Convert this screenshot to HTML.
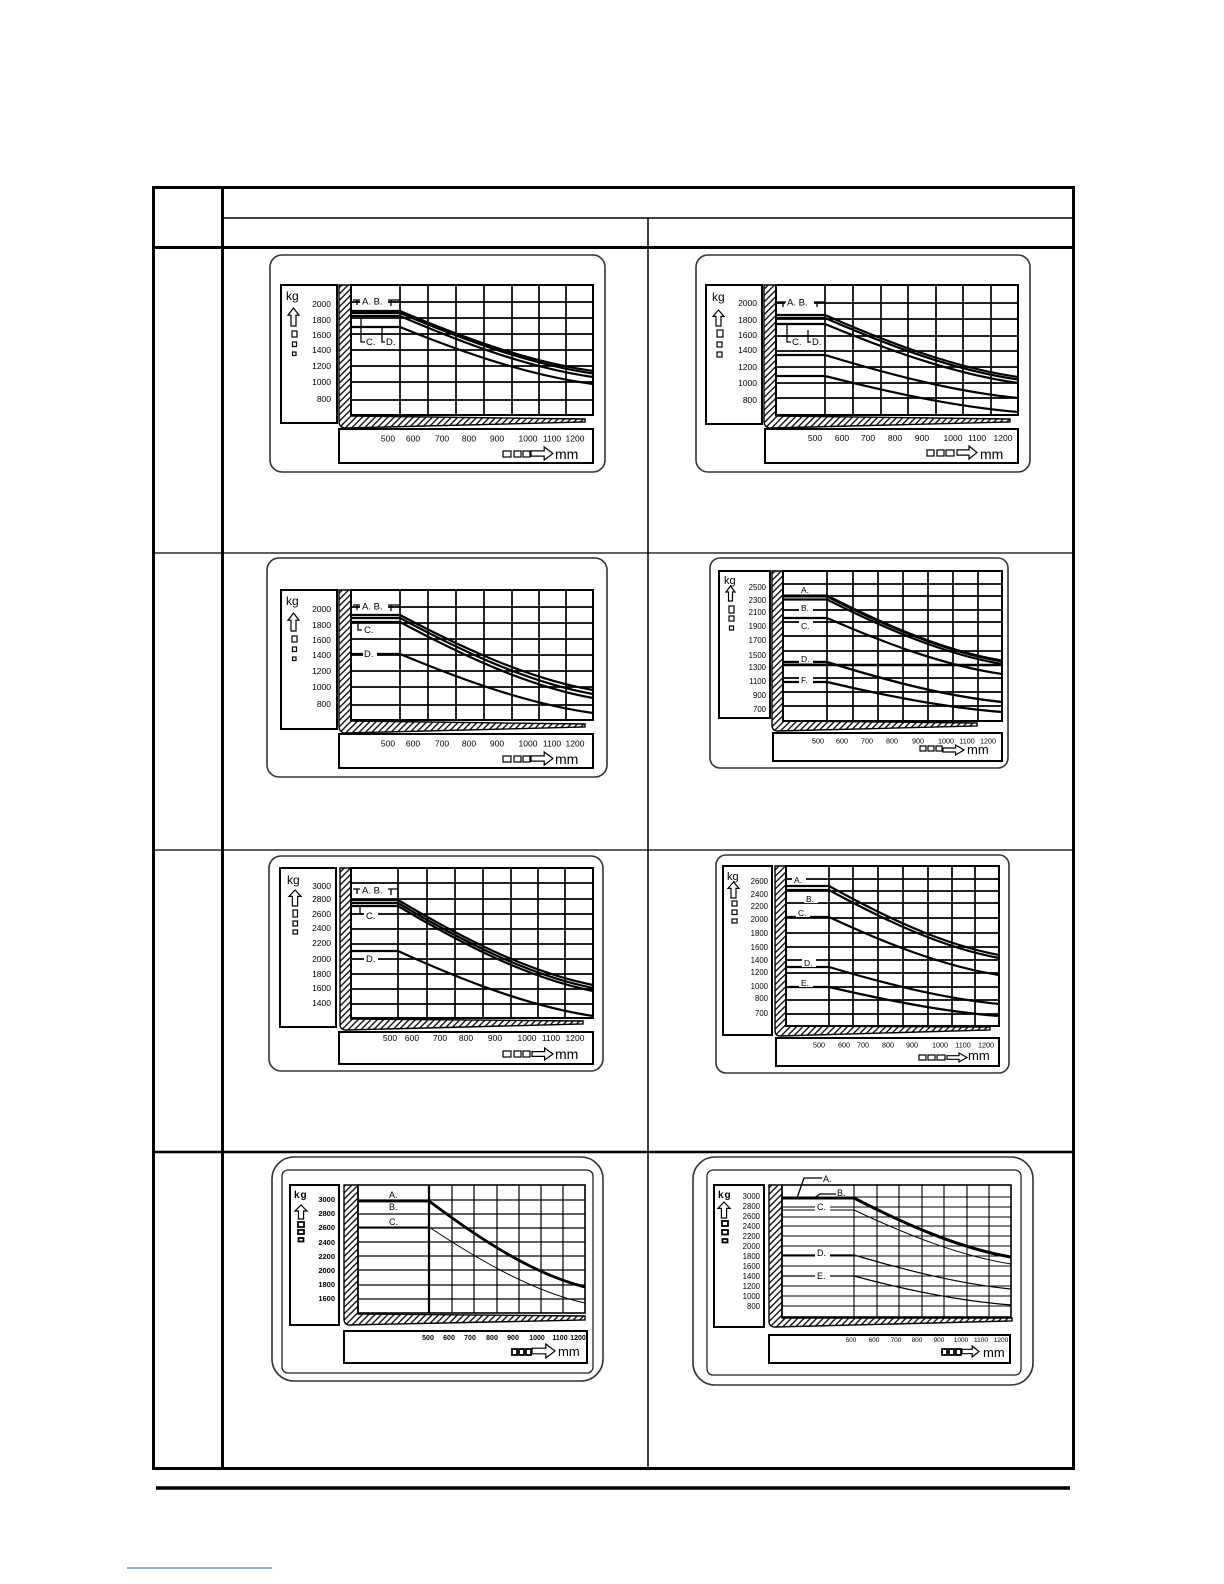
<!DOCTYPE html>
<html><head><meta charset="utf-8"><style>
html,body{margin:0;padding:0;background:#fff}
svg{display:block;font-family:"Liberation Sans",Arial,sans-serif}
.ob{fill:none;stroke:#333;stroke-width:1.6}
.bx{fill:none;stroke:#000;stroke-width:2}
.ht{fill:url(#h);stroke:#000;stroke-width:1.4}
.gr{fill:none;stroke:#000;stroke-width:1.7}
.yl text{font-size:8.5px;text-anchor:end}
.xl text{font-size:8.5px;text-anchor:middle}
.ys text{font-size:7.8px;text-anchor:end}
.xs text{font-size:7.2px;text-anchor:middle}
.xt text{font-size:6.5px;text-anchor:middle}
.yb text{font-size:7.5px;font-weight:bold;text-anchor:end}
.xb text{font-size:7px;font-weight:bold;text-anchor:middle}
.ic{fill:#fff;stroke:#000;stroke-width:1.2}
.icb{fill:#fff;stroke:#000;stroke-width:1.8}
.cv path{fill:none;stroke:#000;stroke-width:2.2}
.br{fill:none;stroke:#000;stroke-width:1.3}
.lb{font-size:9.5px}
.ls{font-size:8.5px}
</style></head><body>
<svg width="1224" height="1584" viewBox="0 0 1224 1584" xmlns="http://www.w3.org/2000/svg">
<defs><pattern id="h" width="4.5" height="4.5" patternUnits="userSpaceOnUse" patternTransform="rotate(45)"><line x1="2.25" y1="0" x2="2.25" y2="4.5" stroke="#000" stroke-width="1.3"/></pattern></defs>

<!-- table -->
<g stroke="#000" fill="none">
<rect x="153.5" y="187.5" width="920" height="1281" stroke-width="3"/>
<line x1="222.5" y1="187" x2="222.5" y2="1469" stroke-width="3"/>
<line x1="224" y1="218" x2="1072" y2="218" stroke-width="1.5"/>
<line x1="153" y1="247.5" x2="1074" y2="247.5" stroke-width="3"/>
<line x1="648" y1="218" x2="648" y2="1468" stroke-width="1.5"/>
<line x1="155" y1="553" x2="1072" y2="553" stroke-width="1.3"/>
<line x1="155" y1="850" x2="1072" y2="850" stroke-width="1.3"/>
<line x1="155" y1="1152" x2="1072" y2="1152" stroke-width="2.5"/>
<line x1="156" y1="1488" x2="1070" y2="1488" stroke-width="3.5"/>
</g>
<line x1="127" y1="1568" x2="272" y2="1568" stroke="#3355cc" stroke-width="1"/>

<!-- C1 -->
<rect x="270" y="255" width="335" height="217" rx="12" class="ob"/>
<rect x="281" y="285" width="56" height="138" class="bx"/>
<path d="M339,285 L351,285 L351,416 L585,419 L585,422 L346,428 Q339,428 339,421 Z" class="ht"/>
<rect x="351" y="285" width="242" height="130" class="bx"/>
<path class="gr" d="M400,285V415M428,285V415M456,285V415M484,285V415M512,285V415M539,285V415M566,285V415M351,302H593M351,318H593M351,334H593M351,350H593M351,366H593M351,382H593M351,400H593"/>
<g class="yl"><text x="331" y="307">2000</text><text x="331" y="323">1800</text><text x="331" y="338">1600</text><text x="331" y="353">1400</text><text x="331" y="369">1200</text><text x="331" y="385">1000</text><text x="331" y="402">800</text></g>
<text x="286" y="300" font-size="12">kg</text>
<polygon class="ic" points="293.5,308 299,315.2 296,315.2 296,326 291,326 291,315.2 288,315.2"/>
<rect class="ic" x="292" y="331" width="5" height="6"/><rect class="ic" x="292.5" y="342" width="4" height="4.5"/><rect class="ic" x="292.5" y="352" width="3.5" height="3.5"/>
<rect x="339" y="429" width="254" height="34" class="bx"/>
<g class="xl"><text x="388" y="441.5">500</text><text x="413" y="441.5">600</text><text x="442" y="441.5">700</text><text x="469" y="441.5">800</text><text x="497" y="441.5">900</text><text x="528" y="441.5">1000</text><text x="552" y="441.5">1100</text><text x="575" y="441.5">1200</text></g>
<rect class="ic" x="503" y="451" width="8" height="6"/><rect class="ic" x="514" y="451" width="7" height="6"/><rect class="ic" x="523" y="451" width="7" height="6"/>
<polygon class="ic" points="531,450.9 544.2,450.9 544.2,447 553,453.5 544.2,460 544.2,456.1 531,456.1"/>
<text x="555" y="459" font-size="14">mm</text>
<g class="cv">
<path d="M351,311H400C464,338 529,362 593,371"/>
<path d="M351,313H400C464,340 529,364 593,373.5"/>
<path d="M351,316H400C464,343.5 529,368 593,377"/>
<path d="M351,327H400C464,353 529,375.5 593,384"/>
</g>
<rect x="360" y="296" width="28" height="10" fill="#fff"/>
<text x="362" y="304.5" class="lb">A. B.</text>
<path class="br" d="M353,300H357M357,300V305M357,300H360M388,300H391M391,300V306M391,300H400M361,316V342H365M382,327V342H385"/>
<text x="366" y="345" class="lb">C.</text><text x="386" y="345" class="lb">D.</text>

<!-- C2 -->
<rect x="696" y="255" width="334" height="217" rx="12" class="ob"/>
<rect x="706" y="285" width="56" height="139" class="bx"/>
<path d="M764,285 L776,285 L776,416 L1010,419 L1010,422 L771,428 Q764,428 764,421 Z" class="ht"/>
<rect x="776" y="285" width="242" height="130" class="bx"/>
<path class="gr" d="M825,285V415M853,285V415M881,285V415M908,285V415M936,285V415M963,285V415M991,285V415M776,303H1018M776,319H1018M776,336H1018M776,351H1018M776,367H1018M776,383H1018M776,398H1018"/>
<g class="yl"><text x="757" y="306">2000</text><text x="757" y="323">1800</text><text x="757" y="338">1600</text><text x="757" y="353">1400</text><text x="757" y="370">1200</text><text x="757" y="386">1000</text><text x="757" y="403">800</text></g>
<text x="712" y="301" font-size="12">kg</text>
<polygon class="ic" points="718.5,310 724,316.4 721,316.4 721,326 716,326 716,316.4 713,316.4"/>
<rect class="ic" x="717" y="330" width="6" height="7"/><rect class="ic" x="717" y="342" width="5" height="5"/><rect class="ic" x="717" y="352" width="5" height="5"/>
<rect x="765" y="429" width="253" height="34" class="bx"/>
<g class="xl"><text x="815" y="441">500</text><text x="842" y="441">600</text><text x="868" y="441">700</text><text x="895" y="441">800</text><text x="922" y="441">900</text><text x="953" y="441">1000</text><text x="977" y="441">1100</text><text x="1003" y="441">1200</text></g>
<rect class="ic" x="927" y="450" width="7" height="6"/><rect class="ic" x="937" y="450" width="7" height="6"/><rect class="ic" x="946" y="450" width="8" height="6"/>
<polygon class="ic" points="957,449.9 969,449.9 969,446 977,452.5 969,459 969,455.1 957,455.1"/>
<text x="980" y="459" font-size="14">mm</text>
<g class="cv">
<path d="M776,315H825C889,343 954,367.7 1018,377"/>
<path d="M776,318H825C889,345.7 954,370.3 1018,379.5"/>
<path d="M776,324H825C889,350.6 954,374 1018,383"/>
<path d="M776,355H825C889,374.4 954,391.6 1018,398"/>
<path d="M776,376H825C889,392.2 954,406.6 1018,412"/>
</g>
<rect x="785" y="297" width="29" height="10" fill="#fff"/>
<text x="787" y="305.5" class="lb">A. B.</text>
<path class="br" d="M777,302H783M783,302V307M783,302H786M814,302H817M817,302V307M817,302H825M787,324V342H791M808,330V342H811"/>
<text x="792" y="345" class="lb">C.</text><text x="812" y="345" class="lb">D.</text>

<!-- C3 -->
<rect x="267" y="558" width="340" height="219" rx="12" class="ob"/>
<rect x="281" y="590" width="56" height="139" class="bx"/>
<path d="M339,590 L351,590 L351,721 L585,724 L585,727 L346,733 Q339,733 339,726 Z" class="ht"/>
<rect x="351" y="590" width="242" height="130" class="bx"/>
<path class="gr" d="M400,590V720M428,590V720M456,590V720M484,590V720M512,590V720M539,590V720M566,590V720M351,607H593M351,623H593M351,639H593M351,655H593M351,671H593M351,687H593M351,705H593"/>
<g class="yl"><text x="331" y="612">2000</text><text x="331" y="628">1800</text><text x="331" y="643">1600</text><text x="331" y="658">1400</text><text x="331" y="674">1200</text><text x="331" y="690">1000</text><text x="331" y="707">800</text></g>
<text x="286" y="605" font-size="12">kg</text>
<polygon class="ic" points="293.5,613 299,620.2 296,620.2 296,631 291,631 291,620.2 288,620.2"/>
<rect class="ic" x="292" y="636" width="5" height="6"/><rect class="ic" x="292.5" y="647" width="4" height="4.5"/><rect class="ic" x="292.5" y="657" width="3.5" height="3.5"/>
<rect x="339" y="734" width="254" height="34" class="bx"/>
<g class="xl"><text x="388" y="746.5">500</text><text x="413" y="746.5">600</text><text x="442" y="746.5">700</text><text x="469" y="746.5">800</text><text x="497" y="746.5">900</text><text x="528" y="746.5">1000</text><text x="552" y="746.5">1100</text><text x="575" y="746.5">1200</text></g>
<rect class="ic" x="503" y="756" width="8" height="6"/><rect class="ic" x="514" y="756" width="7" height="6"/><rect class="ic" x="523" y="756" width="7" height="6"/>
<polygon class="ic" points="531,755.9 544.2,755.9 544.2,752 553,758.5 544.2,765 544.2,761.1 531,761.1"/>
<text x="555" y="764" font-size="14">mm</text>
<g class="cv">
<path d="M351,615H400C464,648.8 529,678.8 593,690"/>
<path d="M351,618H400C464,652.2 529,682.6 593,694"/>
<path d="M351,622H400C464,656.2 529,686.6 593,698"/>
<path d="M351,654H400C464,680.6 529,704.2 593,713"/>
</g>
<rect x="360" y="601" width="28" height="10" fill="#fff"/>
<text x="362" y="609.5" class="lb">A. B.</text>
<path class="br" d="M353,605H357M357,605V610M357,605H360M388,605H391M391,605V611M391,605H400M358,622V630H362"/>
<text x="364" y="633" class="lb">C.</text>
<rect x="363" y="648" width="14" height="10" fill="#fff"/><text x="364" y="657" class="lb">D.</text>

<!-- C4 -->
<rect x="710" y="558" width="298" height="210" rx="10" class="ob"/>
<rect x="719" y="571" width="51" height="147" class="bx"/>
<path d="M772,571 L783,571 L783,721 L977,723 L977,726 L778,731 Q772,731 772,725 Z" class="ht"/>
<rect x="783" y="571" width="219" height="150" class="bx"/>
<path class="gr" d="M827,571V721M853,571V721M878,571V721M903,571V721M928,571V721M953,571V721M978,571V721M783,584H1002M783,596H1002M783,610H1002M783,622H1002M783,636H1002M783,651H1002M783,678H1002M783,692H1002M783,706H1002"/>
<path d="M783,665H1002" stroke="#000" stroke-width="2.5"/>
<g class="ys"><text x="766" y="590">2500</text><text x="766" y="603">2300</text><text x="766" y="615">2100</text><text x="766" y="629">1900</text><text x="766" y="643">1700</text><text x="766" y="658">1500</text><text x="766" y="670">1300</text><text x="766" y="684">1100</text><text x="766" y="698">900</text><text x="766" y="712">700</text></g>
<text x="724" y="584" font-size="11">kg</text>
<polygon class="ic" points="730.5,586 735,592 732.5,592 732.5,601 728.5,601 728.5,592 726,592"/>
<rect class="ic" x="729" y="606" width="5" height="7"/><rect class="ic" x="729" y="616" width="5" height="5"/><rect class="ic" x="729.5" y="626" width="4" height="4"/>
<rect x="773" y="733" width="229" height="28" class="bx"/>
<g class="xs"><text x="818" y="743.5">500</text><text x="842" y="743.5">600</text><text x="867" y="743.5">700</text><text x="892" y="743.5">800</text><text x="918" y="743.5">900</text><text x="946" y="743.5">1000</text><text x="967" y="743.5">1100</text><text x="988" y="743.5">1200</text></g>
<rect class="ic" x="920" y="746" width="6" height="5"/><rect class="ic" x="928" y="746" width="6" height="5"/><rect class="ic" x="936" y="746" width="6" height="5"/>
<polygon class="ic" points="943,748 955.6,748 955.6,745 964,750 955.6,755 955.6,752 943,752"/>
<text x="967" y="754" font-size="13">mm</text>
<g class="cv">
<path d="M783,596H827C884.8,625.3 944.3,651.3 1002,661" style="stroke-width:3"/>
<path d="M783,599.5H827C884.8,628.5 944.3,654.3 1002,664"/>
<path d="M783,618H827C884.8,643.2 944.3,665.6 1002,674"/>
<path d="M783,662H827C884.8,680 944.3,696 1002,702" style="stroke-width:2.4"/>
<path d="M783,682H827C884.8,695.5 944.3,707.5 1002,712"/>
</g>
<rect x="799" y="585" width="14" height="9" fill="#fff"/><text x="801" y="593" class="ls">A.</text>
<rect x="799" y="603" width="14" height="9" fill="#fff"/><text x="801" y="611" class="ls">B.</text>
<rect x="799" y="621" width="14" height="9" fill="#fff"/><text x="801" y="629" class="ls">C.</text>
<rect x="799" y="654" width="14" height="9" fill="#fff"/><text x="801" y="662" class="ls">D.</text>
<rect x="799" y="675" width="14" height="9" fill="#fff"/><text x="801" y="683" class="ls">F.</text>

<!-- C5 -->
<rect x="269" y="856" width="334" height="215" rx="12" class="ob"/>
<rect x="280" y="868" width="56" height="159" class="bx"/>
<path d="M340,868 L351,868 L351,1019 L583,1021 L583,1024 L346,1030 Q340,1030 340,1024 Z" class="ht"/>
<rect x="351" y="868" width="242" height="150" class="bx"/>
<path class="gr" d="M398,868V1018M427,868V1018M455,868V1018M483,868V1018M511,868V1018M538,868V1018M565,868V1018M351,883H593M351,899H593M351,914H593M351,929H593M351,944H593M351,959H593M351,974H593M351,989H593M351,1004H593"/>
<g class="yl"><text x="331" y="889">3000</text><text x="331" y="902">2800</text><text x="331" y="917">2600</text><text x="331" y="931">2400</text><text x="331" y="946">2200</text><text x="331" y="962">2000</text><text x="331" y="977">1800</text><text x="331" y="991">1600</text><text x="331" y="1006">1400</text></g>
<text x="287" y="884" font-size="12">kg</text>
<polygon class="ic" points="295,890 301,896.4 297.6,896.4 297.6,906 292.4,906 292.4,896.4 289,896.4"/>
<rect class="ic" x="293" y="910" width="4.5" height="7"/><rect class="ic" x="293" y="921" width="4.5" height="5"/><rect class="ic" x="293" y="930" width="4.5" height="4"/>
<rect x="339" y="1032" width="254" height="32" class="bx"/>
<g class="xl"><text x="390" y="1041">500</text><text x="412" y="1041">600</text><text x="440" y="1041">700</text><text x="466" y="1041">800</text><text x="495" y="1041">900</text><text x="527" y="1041">1000</text><text x="551" y="1041">1100</text><text x="575" y="1041">1200</text></g>
<rect class="ic" x="503" y="1051" width="8" height="6"/><rect class="ic" x="514" y="1051" width="7" height="6"/><rect class="ic" x="523" y="1051" width="7" height="6"/>
<polygon class="ic" points="532,1051.6 544.6,1051.6 544.6,1048 553,1054 544.6,1060 544.6,1056.4 532,1056.4"/>
<text x="555" y="1059" font-size="14">mm</text>
<g class="cv">
<path d="M351,900H398C462.4,938.3 528.7,972.3 593,985"/>
<path d="M351,903H398C462.4,941.3 528.7,975.3 593,988"/>
<path d="M351,906H398C462.4,944.3 528.7,978.3 593,991"/>
<path d="M351,951H398C462.4,980.3 528.7,1006.3 593,1016"/>
</g>
<rect x="360" y="885" width="28" height="10" fill="#fff"/>
<text x="362" y="893.5" class="lb">A. B.</text>
<path class="br" d="M353,889H357M357,889V894M357,889H360M388,889H391M391,889V895M391,889H398M360,906V914H364"/>
<rect x="364" y="910" width="14" height="10" fill="#fff"/><text x="366" y="919" class="lb">C.</text>
<rect x="364" y="954" width="14" height="10" fill="#fff"/><text x="366" y="962" class="lb">D.</text>

<!-- C6 -->
<rect x="716" y="855" width="293" height="218" rx="10" class="ob"/>
<rect x="723" y="866" width="49" height="169" class="bx"/>
<path d="M775,866 L786,866 L786,1026 L990,1027 L990,1030 L780,1036 Q775,1036 775,1030 Z" class="ht"/>
<rect x="786" y="866" width="213" height="160" class="bx"/>
<path class="gr" d="M829,866V1026M853,866V1026M878,866V1026M903,866V1026M928,866V1026M952,866V1026M975,866V1026M786,879H999M786,891H999M786,903H999M786,918H999M786,933H999M786,947H999M786,960H999M786,973H999M786,987H999M786,1000H999M786,1014H999"/>
<g class="ys"><text x="768" y="884">2600</text><text x="768" y="897">2400</text><text x="768" y="909">2200</text><text x="768" y="922">2000</text><text x="768" y="936">1800</text><text x="768" y="950">1600</text><text x="768" y="963">1400</text><text x="768" y="975">1200</text><text x="768" y="989">1000</text><text x="768" y="1001">800</text><text x="768" y="1016">700</text></g>
<text x="727" y="880" font-size="11">kg</text>
<polygon class="ic" points="733.5,882 739,888.4 736,888.4 736,898 731,898 731,888.4 728,888.4"/>
<rect class="ic" x="732" y="901" width="5" height="5"/><rect class="ic" x="732" y="910" width="5" height="4.5"/><rect class="ic" x="732" y="919" width="5" height="4"/>
<rect x="776" y="1038" width="223" height="28" class="bx"/>
<g class="xs"><text x="819" y="1047.5">500</text><text x="844" y="1047.5">600</text><text x="863" y="1047.5">700</text><text x="888" y="1047.5">800</text><text x="912" y="1047.5">900</text><text x="940" y="1047.5">1000</text><text x="963" y="1047.5">1100</text><text x="986" y="1047.5">1200</text></g>
<rect class="ic" x="919" y="1055" width="7" height="5"/><rect class="ic" x="928" y="1055" width="7" height="5"/><rect class="ic" x="937" y="1055" width="8" height="5"/>
<polygon class="ic" points="947,1055.7 959,1055.7 959,1053 967,1057.5 959,1062 959,1059.3 947,1059.3"/>
<text x="968" y="1060" font-size="13">mm</text>
<g class="cv">
<path d="M786,886H829C885.1,917 942.9,944.7 999,955"/>
<path d="M786,890H829C885.1,920.6 942.9,947.8 999,958"/>
<path d="M786,917H829C885.1,943.1 942.9,966.3 999,975"/>
<path d="M786,967H829C885.1,983.7 942.9,998.5 999,1004"/>
<path d="M786,987H829C885.1,1000 942.9,1011.7 999,1016"/>
</g>
<rect x="792" y="875" width="14" height="9" fill="#fff"/><text x="794" y="883" class="ls">A.</text>
<rect x="804" y="894" width="14" height="9" fill="#fff"/><text x="806" y="902" class="ls">B.</text>
<rect x="796" y="908" width="14" height="9" fill="#fff"/><text x="798" y="916" class="ls">C.</text>
<rect x="802" y="958" width="14" height="9" fill="#fff"/><text x="804" y="966" class="ls">D.</text>
<rect x="799" y="978" width="14" height="9" fill="#fff"/><text x="801" y="986" class="ls">E.</text>

<!-- C7 -->
<rect x="272" y="1157" width="331" height="224" rx="22" class="ob"/>
<rect x="282" y="1170" width="311" height="203" rx="6" fill="none" stroke="#222" stroke-width="1.3"/>
<rect x="290" y="1185" width="49" height="140" class="bx"/>
<path d="M344,1185 L358,1185 L358,1314 L585,1316 L585,1320 L350,1325 Q344,1325 344,1319 Z" class="ht"/>
<rect x="358" y="1185" width="227" height="128" fill="none" stroke="#000" stroke-width="1.6"/>
<path class="gr" style="stroke-width:1.2" d="M452,1185V1313M474,1185V1313M497,1185V1313M519,1185V1313M541,1185V1313M563,1185V1313M358,1200H585M358,1214H585M358,1228H585M358,1242H585M358,1256H585M358,1270H585M358,1285H585M358,1299H585"/>
<path d="M429,1185V1313" stroke="#000" stroke-width="2.2"/>
<g class="yb"><text x="335" y="1202">3000</text><text x="335" y="1216">2800</text><text x="335" y="1230">2600</text><text x="335" y="1245">2400</text><text x="335" y="1259">2200</text><text x="335" y="1273">2000</text><text x="335" y="1287">1800</text><text x="335" y="1301">1600</text></g>
<text x="294" y="1198" font-size="10" font-weight="bold" letter-spacing="1">kg</text>
<polygon class="ic" points="301,1205 307,1211 303.6,1211 303.6,1219 298.4,1219 298.4,1211 295,1211"/>
<rect class="icb" x="298" y="1222" width="6" height="5"/><rect class="icb" x="298" y="1230" width="6" height="4"/><rect class="icb" x="298.5" y="1238" width="5" height="3.5"/>
<rect x="344" y="1331" width="243" height="32" class="bx"/>
<g class="xb"><text x="428" y="1340">500</text><text x="449" y="1340">600</text><text x="470" y="1340">700</text><text x="492" y="1340">800</text><text x="513" y="1340">900</text><text x="537" y="1340">1000</text><text x="560" y="1340">1100</text><text x="578" y="1340">1200</text></g>
<rect class="icb" x="512" y="1349" width="5" height="6"/><rect class="icb" x="519" y="1349" width="5" height="6"/><rect class="icb" x="526" y="1349" width="5" height="6"/>
<polygon class="ic" points="532,1348.2 545.8,1348.2 545.8,1344 555,1351 545.8,1358 545.8,1353.8 532,1353.8"/>
<text x="558" y="1356" font-size="13">mm</text>
<g class="cv">
<path d="M358,1201H429C480.5,1239.7 533.5,1274.1 585,1287" style="stroke-width:2.8"/>
<path d="M358,1227H429C480.5,1261.2 533.5,1291.6 585,1303" style="stroke-width:1"/>
</g>
<rect x="388" y="1191" width="13" height="8" fill="#fff"/><text x="389" y="1198" font-size="9">A.</text>
<rect x="388" y="1203" width="13" height="8" fill="#fff"/><text x="389" y="1210" font-size="9">B.</text>
<rect x="388" y="1217" width="13" height="8" fill="#fff"/><text x="389" y="1225" font-size="9">C.</text>

<!-- C8 -->
<rect x="693" y="1157" width="340" height="228" rx="22" class="ob"/>
<rect x="707" y="1170" width="314" height="205" rx="6" fill="none" stroke="#222" stroke-width="1.3"/>
<rect x="714" y="1185" width="50" height="142" class="bx"/>
<path d="M769,1185 L782,1185 L782,1318 L1012,1318 L1012,1321 L775,1327 Q769,1327 769,1321 Z" class="ht"/>
<rect x="782" y="1185" width="229" height="132" fill="none" stroke="#000" stroke-width="1.6"/>
<path class="gr" style="stroke-width:1.1" d="M854,1185V1317M877,1185V1317M899,1185V1317M922,1185V1317M944,1185V1317M967,1185V1317M989,1185V1317M782,1197H1011M782,1207H1011M782,1217H1011M782,1226H1011M782,1236H1011M782,1246H1011M782,1256H1011M782,1266H1011M782,1276H1011M782,1286H1011M782,1296H1011M782,1306H1011"/>
<g class="ys"><text x="760" y="1199">3000</text><text x="760" y="1209">2800</text><text x="760" y="1219">2600</text><text x="760" y="1229">2400</text><text x="760" y="1239">2200</text><text x="760" y="1249">2000</text><text x="760" y="1259">1800</text><text x="760" y="1269">1600</text><text x="760" y="1279">1400</text><text x="760" y="1289">1200</text><text x="760" y="1299">1000</text><text x="760" y="1309">800</text></g>
<text x="718" y="1198" font-size="10" font-weight="bold" letter-spacing="1">kg</text>
<polygon class="ic" points="724,1202 730,1208.4 726.6,1208.4 726.6,1218 721.4,1218 721.4,1208.4 718,1208.4"/>
<rect class="icb" x="722" y="1221" width="6" height="5"/><rect class="icb" x="722" y="1230" width="6" height="4.5"/><rect class="icb" x="722.5" y="1239" width="5" height="3.5"/>
<rect x="769" y="1335" width="241" height="28" class="bx"/>
<g class="xt"><text x="851" y="1342">500</text><text x="874" y="1342">600</text><text x="896" y="1342">700</text><text x="917" y="1342">800</text><text x="939" y="1342">900</text><text x="961" y="1342">1000</text><text x="981" y="1342">1100</text><text x="1001" y="1342">1200</text></g>
<rect class="icb" x="942" y="1349" width="5" height="6"/><rect class="icb" x="949" y="1349" width="5" height="6"/><rect class="icb" x="956" y="1349" width="5" height="6"/>
<polygon class="ic" points="962,1349.3 972.2,1349.3 972.2,1346 979,1351.5 972.2,1357 972.2,1353.7 962,1353.7"/>
<text x="983" y="1357" font-size="13">mm</text>
<g class="cv">
<path d="M782,1198H854C905.8,1224.6 959.2,1248.2 1011,1257" style="stroke-width:3"/>
<path d="M782,1210H854C905.8,1234.3 959.2,1255.9 1011,1264" style="stroke-width:1"/>
<path d="M782,1255H854C905.8,1270.3 959.2,1283.9 1011,1289" style="stroke-width:1.2"/>
<path d="M782,1276H854C905.8,1290 959.2,1301 1011,1305" style="stroke-width:1.2"/>
</g>
<path class="br" d="M797,1198L804,1178H822M814,1198L820,1194H836"/>
<text x="823" y="1182" font-size="9">A.</text>
<text x="837" y="1196" font-size="9">B.</text>
<rect x="815" y="1202" width="15" height="10" fill="#fff"/><text x="817" y="1210" font-size="9">C.</text>
<rect x="815" y="1248" width="15" height="10" fill="#fff"/><text x="817" y="1256" font-size="9">D.</text>
<rect x="815" y="1271" width="15" height="10" fill="#fff"/><text x="817" y="1279" font-size="9">E.</text>
</svg>
</body></html>
